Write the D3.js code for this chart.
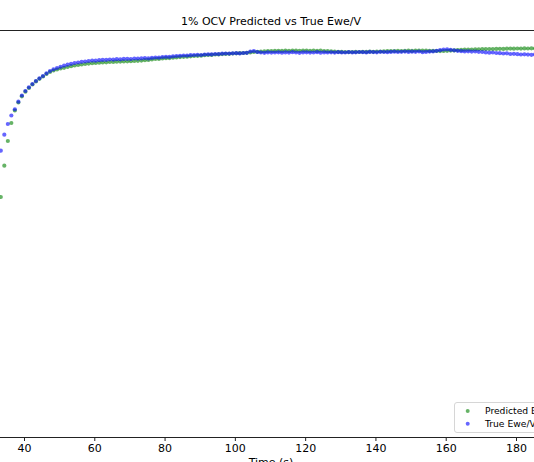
<!DOCTYPE html>
<html>
<head>
<meta charset="utf-8">
<script src="https://cdn.jsdelivr.net/npm/d3@7"></script>
<style>
  html, body { margin: 0; padding: 0; background: #fff; }
  svg { display: block; font-family: "DejaVu Sans", sans-serif; }
</style>
</head>
<body>
<svg id="chart" width="534" height="462"></svg>
<script>
const title = "1% OCV Predicted vs True Ewe/V";
const xLabel = "Time (s)";
const seriesNames = ["Predicted Ewe/V", "True Ewe/V"];
const xTicks = [40, 60, 80, 100, 120, 140, 160, 180];

const time = [
  33.4,34.4,35.4,36.4,37.4,38.4,39.4,40.4,41.4,42.4,
  43.4,44.4,45.4,46.4,47.4,48.4,49.4,50.4,51.4,52.4,
  53.4,54.4,55.4,56.4,57.4,58.4,59.4,60.4,61.4,62.4,
  63.4,64.4,65.4,66.4,67.4,68.4,69.4,70.4,71.4,72.4,
  73.4,74.4,75.4,76.4,77.4,78.4,79.4,80.4,81.4,82.4,
  83.4,84.4,85.4,86.4,87.4,88.4,89.4,90.4,91.4,92.4,
  93.4,94.4,95.4,96.4,97.4,98.4,99.4,100.4,101.4,102.4,
  103.4,104.4,105.4,106.4,107.4,108.4,109.4,110.4,111.4,112.4,
  113.4,114.4,115.4,116.4,117.4,118.4,119.4,120.4,121.4,122.4,
  123.4,124.4,125.4,126.4,127.4,128.4,129.4,130.4,131.4,132.4,
  133.4,134.4,135.4,136.4,137.4,138.4,139.4,140.4,141.4,142.4,
  143.4,144.4,145.4,146.4,147.4,148.4,149.4,150.4,151.4,152.4,
  153.4,154.4,155.4,156.4,157.4,158.4,159.4,160.4,161.4,162.4,
  163.4,164.4,165.4,166.4,167.4,168.4,169.4,170.4,171.4,172.4,
  173.4,174.4,175.4,176.4,177.4,178.4,179.4,180.4,181.4,182.4,
  183.4,184.4,185.4
];

const predicted = [
  3.4830,3.5143,3.5390,3.5570,3.5695,3.5775,3.5837,3.5883,3.5920,3.5955,
  3.5986,3.6012,3.6035,3.6060,3.6080,3.6095,3.6105,3.6115,3.6122,3.6130,
  3.6138,3.6145,3.6150,3.6155,3.6160,3.6164,3.6168,3.6170,3.6173,3.6176,
  3.6177,3.6180,3.6181,3.6183,3.6184,3.6186,3.6187,3.6188,3.6190,3.6192,
  3.6194,3.6198,3.6201,3.6206,3.6210,3.6211,3.6216,3.6218,3.6219,3.6223,
  3.6226,3.6229,3.6232,3.6233,3.6237,3.6240,3.6242,3.6243,3.6248,3.6250,
  3.6251,3.6255,3.6256,3.6259,3.6261,3.6262,3.6265,3.6267,3.6268,3.6270,
  3.6272,3.6276,3.6280,3.6282,3.6284,3.6286,3.6289,3.6290,3.6291,3.6292,
  3.6291,3.6293,3.6292,3.6294,3.6293,3.6292,3.6294,3.6293,3.6292,3.6294,
  3.6291,3.6293,3.6290,3.6288,3.6286,3.6284,3.6282,3.6281,3.6280,3.6279,
  3.6280,3.6281,3.6280,3.6282,3.6281,3.6283,3.6282,3.6284,3.6285,3.6286,
  3.6288,3.6289,3.6290,3.6291,3.6290,3.6292,3.6293,3.6291,3.6294,3.6295,
  3.6293,3.6294,3.6292,3.6291,3.6290,3.6289,3.6290,3.6292,3.6294,3.6296,
  3.6299,3.6301,3.6303,3.6304,3.6305,3.6306,3.6307,3.6308,3.6309,3.6310,
  3.6309,3.6311,3.6312,3.6311,3.6313,3.6314,3.6313,3.6315,3.6314,3.6316,
  3.6315,3.6317,3.6316
];

const trueEwe = [
  3.5293,3.5453,3.5560,3.5645,3.5707,3.5783,3.5845,3.5890,3.5927,3.5960,
  3.5990,3.6017,3.6040,3.6067,3.6090,3.6107,3.6120,3.6132,3.6143,3.6153,
  3.6162,3.6170,3.6175,3.6182,3.6185,3.6190,3.6194,3.6193,3.6198,3.6201,
  3.6202,3.6205,3.6204,3.6208,3.6207,3.6211,3.6212,3.6210,3.6215,3.6214,
  3.6217,3.6219,3.6216,3.6222,3.6225,3.6224,3.6230,3.6232,3.6231,3.6237,
  3.6240,3.6242,3.6245,3.6244,3.6248,3.6250,3.6252,3.6250,3.6255,3.6257,
  3.6256,3.6260,3.6259,3.6263,3.6265,3.6264,3.6267,3.6268,3.6266,3.6270,
  3.6272,3.6285,3.6290,3.6280,3.6275,3.6272,3.6276,3.6274,3.6275,3.6277,
  3.6273,3.6276,3.6274,3.6278,3.6275,3.6272,3.6276,3.6277,3.6274,3.6275,
  3.6278,3.6273,3.6276,3.6275,3.6277,3.6274,3.6278,3.6276,3.6275,3.6279,
  3.6276,3.6277,3.6280,3.6278,3.6276,3.6281,3.6279,3.6277,3.6282,3.6280,
  3.6278,3.6281,3.6283,3.6280,3.6282,3.6284,3.6281,3.6283,3.6282,3.6285,
  3.6278,3.6281,3.6284,3.6286,3.6292,3.6298,3.6305,3.6307,3.6302,3.6297,
  3.6292,3.6288,3.6286,3.6287,3.6284,3.6285,3.6282,3.6280,3.6276,3.6273,
  3.6275,3.6270,3.6268,3.6265,3.6267,3.6260,3.6262,3.6258,3.6255,3.6257,
  3.6254,3.6252,3.6255
];

const svg = d3.select("#chart");
const W = 534, H = 462;

const x = d3.scaleLinear().domain([40, 180]).range([24, 516]);
const y = d3.scaleLinear().domain([3.243, 3.650]).range([437, 30]);

// title
svg.append("text")
  .attr("x", 271).attr("y", 25)
  .attr("text-anchor", "middle")
  .attr("font-size", 11)
  .attr("fill", "#000")
  .text(title);

// points
const predData = time.map((t, i) => ({t, v: predicted[i]}));
const trueData = time.map((t, i) => ({t, v: trueEwe[i]}));

svg.append("g").selectAll("circle").data(predData).join("circle")
  .attr("cx", d => x(d.t)).attr("cy", d => y(d.v)).attr("r", 2.1)
  .attr("fill", "green").attr("fill-opacity", 0.6);

svg.append("g").selectAll("circle").data(trueData).join("circle")
  .attr("cx", d => x(d.t)).attr("cy", d => y(d.v)).attr("r", 2.1)
  .attr("fill", "blue").attr("fill-opacity", 0.6);

// spines
svg.append("line").attr("x1", 0).attr("x2", W).attr("y1", 30.5).attr("y2", 30.5)
  .attr("stroke", "#222").attr("stroke-width", 1);
svg.append("line").attr("x1", 0).attr("x2", W).attr("y1", 437.5).attr("y2", 437.5)
  .attr("stroke", "#222").attr("stroke-width", 1);

// x axis
const xAxis = d3.axisBottom(x).tickValues(xTicks).tickSize(3.5).tickPadding(3.5).tickSizeOuter(0);
const gx = svg.append("g").attr("transform", "translate(0,437.5)").call(xAxis);
gx.select(".domain").remove();
gx.selectAll("line").attr("stroke", "#222");
gx.selectAll("text").attr("font-size", 11).attr("fill", "#000")
  .attr("font-family", "DejaVu Sans, sans-serif");

svg.append("text")
  .attr("x", 271).attr("y", 466)
  .attr("text-anchor", "middle")
  .attr("font-size", 11)
  .attr("fill", "#000")
  .text(xLabel);

// legend
const lg = svg.append("g");
lg.append("rect")
  .attr("x", 454.5).attr("y", 402.5).attr("width", 120).attr("height", 30)
  .attr("rx", 2.5)
  .attr("fill", "#fff").attr("fill-opacity", 0.8)
  .attr("stroke", "#d6d6d6");
const legendColors = ["green", "blue"];
seriesNames.forEach((name, i) => {
  lg.append("circle")
    .attr("cx", 467.7).attr("cy", 411 + i * 12.7).attr("r", 2)
    .attr("fill", legendColors[i]).attr("fill-opacity", 0.6);
  lg.append("text")
    .attr("x", 485).attr("y", 414.2 + i * 12.7)
    .attr("font-size", 9.2).attr("fill", "#000")
    .text(name);
});
</script>
</body>
</html>
